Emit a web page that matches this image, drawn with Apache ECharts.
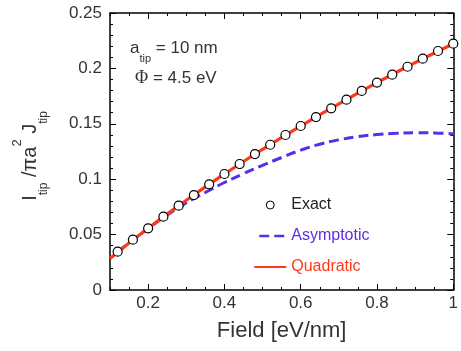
<!DOCTYPE html>
<html>
<head>
<meta charset="utf-8">
<script src="https://cdn.jsdelivr.net/npm/echarts@6/dist/echarts.min.js"></script>
<style>
  html, body { margin: 0; padding: 0; background: #fff; }
  #chart { width: 461px; height: 351px; }
</style>
</head>
<body>
<div id="chart"></div>
<script>
// Exact emission current (circles)
const exactX = [0.12, 0.16, 0.20, 0.24, 0.28, 0.32, 0.36, 0.40, 0.44, 0.48, 0.52, 0.56,
                0.60, 0.64, 0.68, 0.72, 0.76, 0.80, 0.84, 0.88, 0.92, 0.96, 1.00];
const exactY = [0.0346, 0.0454, 0.0557, 0.0662, 0.0761, 0.0857, 0.0954, 0.1047, 0.1137, 0.1227,
                0.1311, 0.1399, 0.1480, 0.1561, 0.1640, 0.1718, 0.1797, 0.1872, 0.1943, 0.2015,
                0.2088, 0.2157, 0.2223];

// Asymptotic approximation (dashed)
const asymX = [0.12, 0.16, 0.20, 0.24, 0.28, 0.32, 0.36, 0.40, 0.45, 0.50, 0.55, 0.60,
               0.65, 0.70, 0.75, 0.80, 0.85, 0.90, 0.95, 1.00];
const asymY = [0.0345, 0.0452, 0.0555, 0.0654, 0.0744, 0.0826, 0.0898, 0.0970, 0.1050, 0.1125,
               0.1196, 0.1262, 0.1316, 0.1355, 0.1384, 0.1403, 0.1414, 0.1420, 0.1418, 0.1409];

// Quadratic approximation (solid)
const quadX = [0.10, 0.20, 0.30, 0.40, 0.50, 0.60, 0.70, 0.80, 0.90, 1.00];
const quadY = [0.0285, 0.0557, 0.0810, 0.1047, 0.1270, 0.1480, 0.1680, 0.1872, 0.2052, 0.2223];

// Axis ticks
const xMajorTicks = [0.2, 0.4, 0.6, 0.8, 1.0];
const xTickLabels = ['0.2', '0.4', '0.6', '0.8', '1'];
const yTickLabels = ['0', '0.05', '0.1', '0.15', '0.2', '0.25'];

const seriesNames = ['Exact', 'Asymptotic', 'Quadratic'];

const RED = '#ff3a1a';
const BLUE = '#5a2ee6';
const FONT = '"Liberation Sans", Arial, sans-serif';
const SERIF = '"Liberation Serif", "DejaVu Serif", serif';

const pair = (xs, ys) => xs.map((x, i) => [x, ys[i]]);

const chart = echarts.init(document.getElementById('chart'), null, { renderer: 'canvas' });

const frameLine = { show: true, lineStyle: { color: '#000', width: 1.5 } };

function xAxisDef(position, major, withLabels) {
  const ax = {
    type: 'value', position: position, min: 0.1, max: 1,
    axisLine: major ? { show: false } : frameLine,
    splitLine: { show: false },
    axisLabel: { show: false },
    axisTick: { show: true, inside: true, length: major ? 6 : 3,
                lineStyle: { color: '#000', width: 1 } }
  };
  if (major) {
    ax.axisTick.customValues = xMajorTicks;
    if (withLabels) {
      ax.axisLabel = {
        show: true, customValues: xMajorTicks, margin: 5,
        fontSize: 17, color: '#333', fontFamily: FONT,
        formatter: v => xTickLabels[xMajorTicks.findIndex(t => Math.abs(t - v) < 1e-9)]
      };
    }
  } else {
    ax.interval = 0.05;
  }
  return ax;
}

function yAxisDef(position, withLabels) {
  return {
    type: 'value', position: position, min: 0, max: 0.25, interval: 0.05,
    axisLine: frameLine,
    splitLine: { show: false },
    axisTick: { show: true, inside: true, length: 6, lineStyle: { color: '#000', width: 1 } },
    minorTick: { show: true, splitNumber: 5, length: 3, lineStyle: { color: '#000', width: 1 } },
    axisLabel: withLabels ? {
      show: true, margin: 8, fontSize: 17, color: '#333', fontFamily: FONT,
      formatter: v => yTickLabels[Math.round(v / 0.05)]
    } : { show: false }
  };
}

const option = {
  backgroundColor: '#fff',
  animation: false,
  grid: { left: 110, right: 2, top: 13, bottom: 61, containLabel: false },
  xAxis: [
    Object.assign(xAxisDef('bottom', false, false), {
      name: 'Field [eV/nm]', nameLocation: 'middle', nameGap: 30,
      nameTextStyle: { fontSize: 22, color: '#333', fontFamily: FONT }
    }),
    xAxisDef('bottom', true, true),
    xAxisDef('top', false, false),
    xAxisDef('top', true, false)
  ],
  yAxis: [yAxisDef('left', true), yAxisDef('right', false)],
  legend: {
    orient: 'vertical', left: 248, top: 192,
    itemWidth: 32, itemHeight: 8, itemGap: 15,
    textStyle: { fontSize: 16, fontFamily: FONT },
    data: [
      { name: seriesNames[0], textStyle: { color: '#222' },
        itemStyle: { borderWidth: 1 } },
      // line entries show only the stroke, no marker
      { name: seriesNames[1], textStyle: { color: BLUE }, itemStyle: { opacity: 0 },
        lineStyle: { width: 2.5, dashOffset: 10 } },
      { name: seriesNames[2], textStyle: { color: RED }, itemStyle: { opacity: 0 },
        lineStyle: { width: 2 } }
    ]
  },
  graphic: [
    {
      type: 'text', x: 30, y: 156, rotation: Math.PI / 2,
      style: {
        text: '{m|I}{s|tip}{m| /πa}{p|2}{m| J}{s|tip}',
        align: 'center', verticalAlign: 'middle',
        fill: '#333', fontFamily: FONT,
        rich: {
          m: { fontSize: 20, lineHeight: 39, fontFamily: FONT, fill: '#333' },
          s: { fontSize: 12, lineHeight: 13, verticalAlign: 'bottom', fontFamily: FONT, fill: '#333' },
          p: { fontSize: 13, lineHeight: 18, verticalAlign: 'top', fontFamily: FONT, fill: '#333' }
        }
      }
    },
    {
      type: 'text', x: 130, y: 48,
      style: {
        text: '{m|a}{s|tip}{m| = 10 nm}',
        align: 'left', verticalAlign: 'middle', fill: '#333',
        rich: {
          m: { fontSize: 17, lineHeight: 32, fontFamily: FONT, fill: '#333' },
          s: { fontSize: 11, lineHeight: 11, verticalAlign: 'bottom', fontFamily: FONT, fill: '#333' }
        }
      }
    },
    {
      type: 'text', x: 135, y: 78,
      style: {
        text: '{f|Φ}{m| = 4.5 eV}',
        align: 'left', verticalAlign: 'middle', fill: '#333',
        rich: {
          f: { fontSize: 18, fontFamily: SERIF, fill: '#333' },
          m: { fontSize: 17, fontFamily: FONT, fill: '#333' }
        }
      }
    }
  ],
  series: [
    {
      name: seriesNames[1], type: 'line', xAxisIndex: 0, yAxisIndex: 0,
      data: pair(asymX, asymY), smooth: true, symbol: 'none', z: 2,
      lineStyle: { color: BLUE, width: 3, type: [10, 5] },
      itemStyle: { color: BLUE }
    },
    {
      name: seriesNames[2], type: 'line', xAxisIndex: 0, yAxisIndex: 0,
      data: pair(quadX, quadY), smooth: true, symbol: 'none', z: 3,
      lineStyle: { color: RED, width: 3.2 },
      itemStyle: { color: RED }
    },
    {
      name: seriesNames[0], type: 'scatter', xAxisIndex: 0, yAxisIndex: 0,
      data: pair(exactX, exactY), symbol: 'circle', symbolSize: 9, z: 4,
      itemStyle: { color: '#fff', borderColor: '#000', borderWidth: 1.2, opacity: 1 }
    }
  ]
};

chart.setOption(option);
</script>
</body>
</html>
